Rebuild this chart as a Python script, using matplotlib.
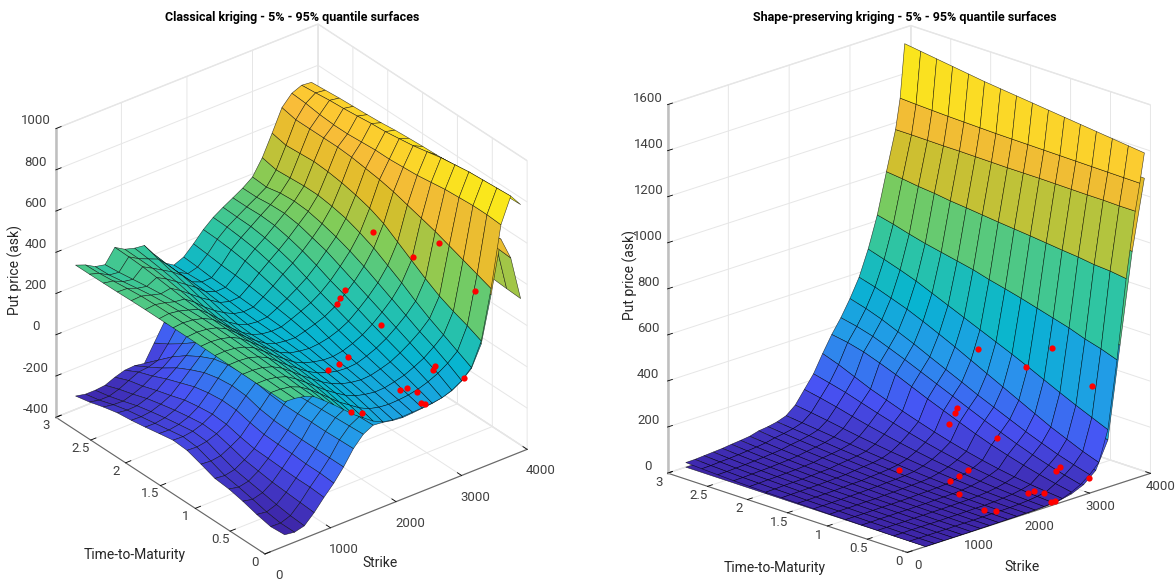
import matplotlib
matplotlib.use("Agg")
import numpy as np
import matplotlib.pyplot as plt
from matplotlib.colors import LinearSegmentedColormap, Normalize

plt.rcParams['font.family'] = ['Roboto', 'Liberation Sans', 'DejaVu Sans']
plt.rcParams['axes.unicode_minus'] = False

strikes = [300, 450, 600, 750, 900, 1050, 1200, 1350, 1500, 1650, 1800, 1950, 2100,
           2250, 2400, 2550, 2700, 2850, 3000, 3150, 3300, 3450, 3600, 3750, 3900]
strikes_shape = [300, 450, 600, 750, 900, 1050, 1200, 1350, 1500, 1650, 1800, 1950, 2100,
                 2250, 2400, 2550, 2700, 2850, 3000, 3150, 3300, 3450, 3600, 3750, 3825, 3900]
maturities = [0, 0.2, 0.4, 0.6, 0.8, 1, 1.2, 1.4, 1.6, 1.8, 2, 2.2, 2.4, 2.6, 2.8, 3]
strikes_coarse = [300, 500, 700, 900, 1100, 1300, 1500, 1700, 1900, 2100, 2300, 2500,
                  2700, 2900, 3100, 3300, 3500, 3700, 3900]
maturities_coarse = [0, 1, 2, 3]

# classical kriging, 95% surface (rows = maturity, columns = strike)
classical_upper = [
    [300, 297, 288, 268, 230, 190, 148, 105, 70, 35, 12, 3, 0, 2, 4, 8, 15, 32, 60, 105, 215, 450, 740, 860, 800],
    [300, 298, 290, 270, 238, 200, 160, 120, 88, 55, 32, 20, 15, 17, 22, 32, 48, 70, 100, 140, 245, 475, 745, 855, 797],
    [300, 300, 292, 276, 246, 210, 172, 135, 102, 72, 50, 38, 30, 32, 42, 55, 76, 100, 135, 175, 270, 500, 745, 850, 793],
    [301, 301, 295, 280, 254, 218, 180, 146, 112, 84, 64, 52, 45, 48, 60, 75, 100, 130, 165, 210, 300, 525, 740, 845, 790],
    [302, 303, 298, 284, 260, 224, 186, 152, 118, 92, 74, 62, 58, 62, 78, 98, 125, 160, 200, 250, 340, 550, 735, 835, 785],
    [303, 305, 300, 287, 264, 228, 190, 155, 120, 96, 82, 72, 70, 78, 95, 118, 150, 190, 235, 295, 385, 570, 725, 825, 780],
    [304, 307, 302, 290, 266, 230, 192, 156, 122, 100, 90, 84, 88, 98, 115, 140, 178, 220, 270, 335, 430, 590, 715, 810, 775],
    [305, 309, 304, 292, 268, 230, 190, 154, 122, 102, 95, 92, 105, 120, 138, 165, 205, 250, 305, 375, 475, 610, 710, 795, 772],
    [305, 310, 305, 293, 270, 230, 188, 150, 120, 104, 98, 100, 118, 138, 160, 190, 230, 280, 335, 405, 505, 625, 705, 785, 768],
    [305, 311, 304, 290, 274, 236, 192, 156, 125, 106, 100, 104, 128, 155, 185, 218, 260, 310, 360, 430, 525, 635, 705, 775, 763],
    [305, 310, 300, 286, 280, 246, 204, 168, 138, 114, 104, 108, 138, 172, 210, 245, 285, 330, 380, 445, 540, 645, 700, 770, 755],
    [304, 307, 293, 280, 288, 258, 222, 186, 155, 124, 110, 112, 148, 190, 228, 265, 305, 350, 395, 455, 550, 650, 695, 762, 750],
    [302, 300, 282, 272, 296, 270, 238, 205, 172, 132, 114, 115, 155, 205, 245, 280, 320, 360, 400, 455, 555, 650, 695, 755, 746],
    [301, 292, 270, 262, 304, 278, 250, 222, 186, 136, 116, 118, 160, 215, 255, 290, 325, 358, 395, 450, 550, 650, 700, 750, 742],
    [300, 285, 258, 252, 308, 280, 260, 240, 192, 138, 112, 125, 168, 222, 262, 292, 322, 350, 380, 445, 545, 650, 710, 742, 736],
    [300, 282, 255, 245, 310, 282, 268, 262, 200, 140, 110, 130, 175, 225, 265, 295, 322, 350, 385, 460, 560, 665, 715, 735, 730],
]

# classical kriging, 5% surface
classical_lower = [
    [-345, -352, -340, -295, -240, -190, -130, -60, -10, 15, 10, 0, -5, -2, 2, 6, 15, 30, 58, 100, 200, 420, 670, 560, 344],
    [-350, -352, -335, -290, -235, -185, -130, -62, -14, 12, 8, 0, -4, 0, 4, 10, 24, 42, 72, 115, 215, 435, 665, 565, 348],
    [-335, -342, -325, -285, -235, -185, -130, -65, -18, 8, 5, 1, 0, 4, 10, 20, 38, 58, 90, 135, 240, 455, 655, 565, 353],
    [-315, -325, -312, -280, -232, -180, -130, -65, -22, 5, 4, 4, 3, 10, 18, 32, 52, 78, 115, 160, 265, 475, 645, 565, 358],
    [-300, -310, -300, -270, -228, -178, -128, -68, -26, 3, 5, 8, 8, 18, 28, 46, 70, 100, 140, 190, 290, 490, 635, 560, 362],
    [-293, -298, -288, -260, -225, -175, -125, -68, -30, 3, 8, 12, 15, 28, 42, 62, 92, 128, 170, 220, 315, 505, 625, 555, 365],
    [-268, -272, -265, -240, -212, -162, -115, -62, -30, 2, 12, 18, 24, 38, 55, 78, 110, 150, 195, 245, 340, 515, 615, 550, 370],
    [-245, -248, -240, -222, -195, -145, -95, -50, -22, 5, 16, 22, 32, 48, 68, 92, 128, 170, 218, 270, 360, 525, 605, 540, 374],
    [-240, -242, -235, -218, -190, -142, -90, -48, -20, 8, 18, 25, 38, 56, 80, 108, 145, 190, 238, 290, 378, 530, 600, 530, 378],
    [-252, -254, -246, -228, -198, -150, -98, -52, -22, 6, 17, 25, 42, 62, 90, 120, 160, 205, 255, 305, 392, 530, 595, 525, 382],
    [-265, -266, -258, -240, -210, -165, -115, -68, -30, -2, 12, 22, 42, 68, 98, 132, 172, 222, 270, 320, 402, 530, 590, 518, 386],
    [-276, -278, -272, -255, -232, -190, -145, -100, -55, -18, 3, 16, 38, 68, 102, 138, 182, 232, 282, 330, 410, 528, 585, 510, 390],
    [-284, -290, -288, -272, -252, -215, -180, -140, -95, -50, -15, 5, 28, 62, 100, 140, 185, 240, 288, 335, 415, 525, 580, 505, 394],
    [-300, -308, -310, -295, -275, -245, -225, -190, -145, -90, -40, -15, 12, 48, 92, 135, 182, 238, 288, 335, 412, 520, 575, 500, 398],
    [-320, -330, -330, -315, -292, -270, -265, -250, -190, -120, -60, -35, -8, 30, 80, 125, 175, 232, 282, 330, 408, 515, 570, 495, 402],
    [-335, -345, -345, -340, -320, -305, -302, -310, -230, -150, -95, -60, -28, 20, 70, 115, 165, 225, 278, 325, 402, 510, 565, 490, 405],
]

# shape-preserving kriging, 95% surface
shape_upper = [
    [0, 0, 0, 0, 0, 0, 1, 1, 1, 2, 2, 3, 4, 6, 9, 15, 30, 50, 80, 120, 250, 540, 880, 1160, 1275, 1400],
    [0, 0, 0, 0, 0, 1, 1, 1, 2, 3, 3, 4, 6, 9, 14, 22, 44, 68, 100, 145, 280, 565, 890, 1160, 1276, 1408],
    [0, 0, 1, 1, 1, 1, 2, 2, 3, 4, 4, 6, 9, 13, 20, 30, 60, 88, 122, 175, 310, 585, 895, 1162, 1277, 1416],
    [1, 1, 1, 1, 2, 2, 3, 3, 4, 5, 6, 8, 12, 18, 27, 40, 78, 110, 148, 205, 342, 610, 905, 1162, 1278, 1424],
    [1, 1, 2, 2, 3, 3, 4, 4, 6, 7, 8, 11, 16, 24, 36, 52, 98, 135, 175, 240, 375, 630, 912, 1163, 1279, 1432],
    [2, 2, 2, 3, 4, 4, 5, 6, 8, 9, 11, 14, 21, 32, 46, 66, 120, 162, 205, 275, 408, 650, 920, 1164, 1280, 1440],
    [2, 3, 3, 4, 5, 5, 7, 8, 10, 12, 14, 18, 27, 40, 58, 82, 145, 190, 235, 310, 440, 670, 928, 1165, 1281, 1448],
    [3, 3, 4, 5, 6, 7, 9, 10, 13, 15, 18, 23, 34, 50, 72, 100, 172, 220, 265, 345, 470, 688, 935, 1165, 1282, 1456],
    [4, 4, 5, 6, 7, 9, 11, 12, 16, 19, 23, 29, 42, 62, 88, 120, 200, 250, 298, 380, 500, 705, 942, 1165, 1283, 1464],
    [5, 6, 7, 8, 9, 11, 13, 15, 20, 24, 28, 35, 50, 75, 106, 142, 228, 280, 330, 415, 530, 725, 950, 1166, 1284, 1472],
    [6, 7, 9, 10, 11, 13, 16, 18, 24, 29, 34, 42, 60, 90, 126, 165, 258, 310, 362, 448, 560, 740, 958, 1167, 1286, 1480],
    [8, 9, 11, 12, 14, 16, 19, 22, 29, 34, 40, 50, 70, 105, 146, 190, 288, 340, 395, 480, 590, 755, 965, 1168, 1288, 1490],
    [10, 11, 13, 15, 17, 20, 23, 27, 34, 40, 47, 58, 82, 122, 168, 215, 315, 368, 425, 510, 620, 770, 975, 1168, 1290, 1500],
    [13, 14, 16, 18, 21, 24, 28, 32, 40, 46, 54, 66, 94, 140, 190, 245, 340, 395, 455, 535, 645, 788, 982, 1169, 1293, 1510],
    [16, 17, 20, 22, 25, 29, 33, 38, 47, 53, 61, 74, 105, 156, 208, 275, 358, 415, 480, 560, 668, 808, 992, 1170, 1296, 1520],
    [20, 21, 24, 27, 30, 35, 39, 44, 55, 60, 68, 82, 115, 170, 225, 300, 370, 430, 500, 580, 690, 825, 1000, 1170, 1300, 1530],
]

# shape-preserving kriging, 5% surface (only its rim shows)
shape_lower = [
    [0, 0, 0, 0, 0, 0, 1, 1, 2, 3, 5, 10, 22, 45, 90, 205, 600, 990, 1290],
    [0, 0, 0, 0, 1, 1, 2, 3, 6, 10, 18, 35, 60, 100, 180, 320, 640, 1000, 1310],
    [0, 0, 1, 1, 2, 3, 5, 10, 20, 35, 60, 90, 140, 200, 290, 430, 700, 1020, 1340],
    [0, 0, 1, 2, 4, 7, 12, 20, 40, 70, 120, 190, 270, 350, 450, 590, 780, 1030, 1380],
]

# observed quotes, left panel
classical_pts_strike = [3240, 3316, 3500, 3635, 2813, 2738, 2692, 2829, 2920, 2875, 3063, 2114, 1977, 1810, 1521, 1688, 2373, 2479, 2433, 2426, 2502]
classical_pts_ttm = [1.5, 1, 0.8, 0.4, 1.5, 1.5, 1.5, 1, 0.3, 0.3, 0.02, 0.8, 0.8, 0.8, 0.2, 0.2, 0.3, 0.3, 0.1, 0.05, 0.05]
classical_pts_price = [419, 398, 487, 326, 193, 163, 140, 131, 76, 63, 62, 112, 96, 88, 49, 23, 30, 26, 56, 11, 1]

# observed quotes, right panel
shape_pts_strike = [3136, 3270, 3436, 3570, 2790, 2757, 2658, 2793, 2912, 2846, 3022, 2053, 1904, 1757, 1835, 1381, 1529, 1727, 2385, 2484, 2387, 2436, 2502]
shape_pts_ttm = [1.5, 1, 0.8, 0.4, 1.5, 1.5, 1.5, 1, 0.3, 0.3, 0.02, 0.8, 0.8, 0.8, 1.5, 0.4, 0.2, 0.2, 0.3, 0.3, 0.1, 0.05, 0.05]
shape_pts_price = [442, 409, 500, 370, 215, 196, 157, 141, 85, 74, 60, 89, 75, 66, 27, 88, 28, 7, 17, 17, 40, 2, 1]

strike_ticks = [0, 1000, 2000, 3000, 4000]
ttm_ticks = [0, 0.5, 1, 1.5, 2, 2.5, 3]
ttm_labels = ['0', '0.5', '1', '1.5', '2', '2.5', '3']
classical_price_ticks = [-400, -200, 0, 200, 400, 600, 800, 1000]
shape_price_ticks = [0, 200, 400, 600, 800, 1000, 1200, 1400, 1600]

parula = LinearSegmentedColormap.from_list('parula', [
    (0.2422, 0.1504, 0.6603), (0.2810, 0.3228, 0.9579), (0.1540, 0.5902, 0.9218),
    (0.0297, 0.7082, 0.8163), (0.1938, 0.7758, 0.6251), (0.5044, 0.7993, 0.3480),
    (0.8634, 0.7406, 0.1596), (0.9892, 0.7400, 0.2300), (0.9763, 0.9831, 0.0538)])

W, H = 1176, 579


def make_axes(fig, side, centre, elev, azim, box):
    left = (centre[0] - 0.5135 * side) / W
    bottom = ((H - centre[1]) - 0.5135 * side) / H
    ax = fig.add_axes([left, bottom, side / W, side / H], projection='3d',
                      proj_type='ortho', computed_zorder=False)
    ax.patch.set_alpha(0)
    ax.view_init(elev=elev, azim=azim)
    ax.set_box_aspect(box)
    return ax


def style_axes(ax, zlim, zticks, strike_pad):
    ax.set_xlim(0, 4000, view_margin=0)
    ax.set_ylim(0, 3, view_margin=0)
    ax.set_zlim(zlim[0], zlim[1], view_margin=0)
    ax.set_xticks(strike_ticks)
    ax.set_yticks(ttm_ticks)
    ax.set_yticklabels(ttm_labels)
    ax.set_zticks(zticks)
    for axis in (ax.xaxis, ax.yaxis, ax.zaxis):
        axis.set_pane_color((1, 1, 1, 1))
        axis.pane.set_edgecolor((0.9, 0.9, 0.9, 1))
        axis._axinfo['grid']['color'] = (0.9, 0.9, 0.9, 1)
        axis._axinfo['grid']['linewidth'] = 0.7
        axis._axinfo['tick']['color'] = (0.35, 0.35, 0.35, 1)
        axis._axinfo['tick']['linewidth'] = {True: 0.6, False: 0.6}
        axis._axinfo['tick']['inward_factor'] = 0
        axis._axinfo['tick']['outward_factor'] = 0.25
        axis.line.set_color((0.4, 0.4, 0.4, 1))
        axis.line.set_linewidth(0.8)
    ax.zaxis.line.set_color((0.75, 0.75, 0.75, 1))
    ax.zaxis.line.set_linewidth(1.8)
    ax.tick_params(labelsize=9.5, labelcolor=(0.25, 0.25, 0.25))
    ax.xaxis.set_tick_params(pad=strike_pad)
    ax.yaxis.set_tick_params(pad=0)
    ax.zaxis.set_tick_params(pad=1)
    for axis in (ax.xaxis, ax.yaxis, ax.zaxis):
        for tick in axis.get_major_ticks():
            tick.label1.set_va('bottom')


def draw_panel(ax, upper, upper_strikes, lower, lower_strikes, lower_ttm, pts, zlim, zticks, vrange, strike_pad):
    norm = Normalize(vmin=vrange[0], vmax=vrange[1])
    X, Y = np.meshgrid(lower_strikes, lower_ttm)
    ax.plot_surface(X, Y, np.array(lower), rstride=1, cstride=1, cmap=parula, norm=norm,
                    edgecolor=(0, 0, 0, 0.75), linewidth=0.4, shade=False, zorder=2)
    X, Y = np.meshgrid(upper_strikes, maturities)
    ax.plot_surface(X, Y, np.array(upper), rstride=1, cstride=1, cmap=parula, norm=norm,
                    edgecolor=(0, 0, 0, 0.75), linewidth=0.4, shade=False, zorder=3)
    ax.plot(pts[0], pts[1], pts[2], linestyle='none', marker='o', markersize=4.5,
            color=(1, 0, 0), markeredgewidth=0, zorder=4)
    style_axes(ax, zlim, zticks, strike_pad)


def put_text(fig, x, y, s, **kw):
    fig.text(x / W, 1 - y / H, s, ha='center', va='center', **kw)


def main():
    fig = plt.figure(figsize=(W / 100, H / 100), dpi=100, facecolor='white')

    # left panel
    ax1 = make_axes(fig, 565, (291.5, 289), 30.7, -128, (334, 341, 337))
    draw_panel(ax1, classical_upper, strikes, classical_lower, strikes, maturities,
               (classical_pts_strike, classical_pts_ttm, classical_pts_price),
               (-400, 1000), classical_price_ticks, (-352, 850), 6)

    # right panel
    ax2 = make_axes(fig, 602.6, (909, 289), 19.15, -134.75, (342, 340, 389.5))
    draw_panel(ax2, shape_upper, strikes_shape, shape_lower, strikes_coarse, maturities_coarse,
               (shape_pts_strike, shape_pts_ttm, shape_pts_price),
               (0, 1600), shape_price_ticks, (0, 1480), 2)

    label_color = (0.15, 0.15, 0.15)
    put_text(fig, 292, 17, 'Classical kriging - 5% - 95% quantile surfaces', fontsize=9, fontweight='bold')
    put_text(fig, 905, 17, 'Shape-preserving kriging - 5% - 95% quantile surfaces', fontsize=9, fontweight='bold')
    put_text(fig, 15, 270, 'Put price (ask)', fontsize=10, rotation=90, color=label_color)
    put_text(fig, 135, 555, 'Time-to-Maturity', fontsize=10, color=label_color)
    put_text(fig, 380, 563, 'Strike', fontsize=10, color=label_color)
    put_text(fig, 630, 275, 'Put price (ask)', fontsize=10, rotation=90, color=label_color)
    put_text(fig, 775, 568, 'Time-to-Maturity', fontsize=10, color=label_color)
    put_text(fig, 1022, 567, 'Strike', fontsize=10, color=label_color)

    fig.savefig('out.png', dpi=100)


if __name__ == "__main__":
    main()
